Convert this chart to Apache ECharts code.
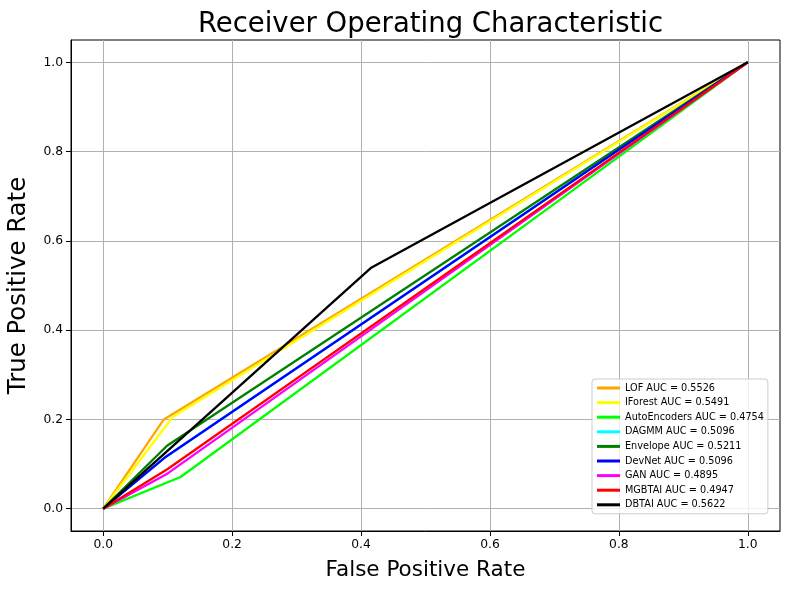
<!DOCTYPE html>
<html>
<head>
<meta charset="utf-8">
<title>ROC</title>
<script src="https://cdn.jsdelivr.net/npm/echarts@6/dist/echarts.min.js"></script>
<style>
  html, body { margin: 0; padding: 0; background: #fff; }
  #chart { width: 789px; height: 590px; }
</style>
</head>
<body>
<div id="chart"></div>
<script>
// datos: cada curva ROC tiene tres puntos
var modelNames = ['LOF', 'IForest', 'AutoEncoders', 'DAGMM', 'Envelope', 'DevNet', 'GAN', 'MGBTAI', 'DBTAI'];
var aucValues = [0.5526, 0.5491, 0.4754, 0.5096, 0.5211, 0.5096, 0.4895, 0.4947, 0.5622];

var fprLOF = [0, 0.094, 1];
var tprLOF = [0, 0.2, 1];
var fprIForest = [0, 0.108, 1];
var tprIForest = [0, 0.206, 1];
var fprAutoEncoders = [0, 0.12, 1];
var tprAutoEncoders = [0, 0.071, 1];
var fprDAGMM = [0, 0.095, 1];
var tprDAGMM = [0, 0.114, 1];
var fprEnvelope = [0, 0.099, 1];
var tprEnvelope = [0, 0.141, 1];
var fprDevNet = [0, 0.095, 1];
var tprDevNet = [0, 0.114, 1];
var fprGAN = [0, 0.1, 1];
var tprGAN = [0, 0.079, 1];
var fprMGBTAI = [0, 0.1, 1];
var tprMGBTAI = [0, 0.089, 1];
var fprDBTAI = [0, 0.415, 1];
var tprDBTAI = [0, 0.539, 1];

var tickValues = [0, 0.2, 0.4, 0.6, 0.8, 1.0];

var fprList = [fprLOF, fprIForest, fprAutoEncoders, fprDAGMM, fprEnvelope, fprDevNet, fprGAN, fprMGBTAI, fprDBTAI];
var tprList = [tprLOF, tprIForest, tprAutoEncoders, tprDAGMM, tprEnvelope, tprDevNet, tprGAN, tprMGBTAI, tprDBTAI];

// colores (estilo), en el mismo orden que modelNames
var lineColors = ['#ffa500', '#ffff00', '#00ff00', '#00ffff', '#008000', '#0000ff', '#ff00ff', '#ff0000', '#000000'];

var FONT = 'DejaVu Sans';

const buildSeries = () => {
  return modelNames.map((name, i) => {
    return {
      name: name + ' AUC = ' + aucValues[i].toFixed(4),
      type: 'line',
      symbol: 'none',
      color: lineColors[i],
      lineStyle: { width: 2.3, color: lineColors[i] },
      data: fprList[i].map((x, j) => [x, tprList[i][j]]),
    };
  });
};

const valueAxis = (name, nameGap, nameRotate, nameSize) => {
  return {
    type: 'value',
    min: -0.05,
    max: 1.05,
    name: name,
    nameLocation: 'middle',
    nameGap: nameGap,
    nameRotate: nameRotate,
    nameTextStyle: { fontFamily: FONT, fontSize: nameSize, color: '#000' },
    axisLine: { show: true, onZero: false, lineStyle: { color: '#000', width: 1 } },
    axisTick: {
      show: true,
      inside: false,
      length: 5,
      customValues: tickValues,
      lineStyle: { color: '#000', width: 1 },
    },
    axisLabel: {
      customValues: tickValues,
      fontFamily: FONT,
      fontSize: 12.3,
      color: '#000',
      margin: 8,
      formatter: (v) => v.toFixed(1),
    },
    splitLine: { show: true, lineStyle: { color: '#b0b0b0', width: 1 } },
  };
};

const getOption = () => {
  return {
    animation: false,
    backgroundColor: '#fff',
    title: {
      text: 'Receiver Operating Characteristic',
      left: 425.5,
      textAlign: 'center',
      top: 6,
      textStyle: { fontFamily: FONT, fontSize: 27.5, fontWeight: 'normal', color: '#000' },
    },
    grid: {
      left: 71,
      right: 9,
      top: 40,
      bottom: 59,
      outerBoundsMode: 'none',
      containLabel: false,
      show: true,
      borderColor: '#000',
      borderWidth: 1,
    },
    legend: {
      orient: 'vertical',
      left: 592,
      top: 379,
      padding: [3, 4, 3, 5],
      itemWidth: 23,
      itemHeight: 3,
      itemGap: 2.6,
      icon: 'rect',
      backgroundColor: 'rgba(255,255,255,0.8)',
      borderColor: '#cccccc',
      borderWidth: 1,
      borderRadius: 3,
      textStyle: { fontFamily: FONT, fontSize: 9.7, lineHeight: 12, color: '#000' },
    },
    xAxis: valueAxis('False Positive Rate', 28, 0, 21.5),
    yAxis: valueAxis('True Positive Rate', 40, 90, 24.4),
    series: buildSeries(),
  };
};

window.addEventListener('load', () => {
  const chart = echarts.init(document.getElementById('chart'));
  chart.setOption(getOption());
});
</script>
</body>
</html>
